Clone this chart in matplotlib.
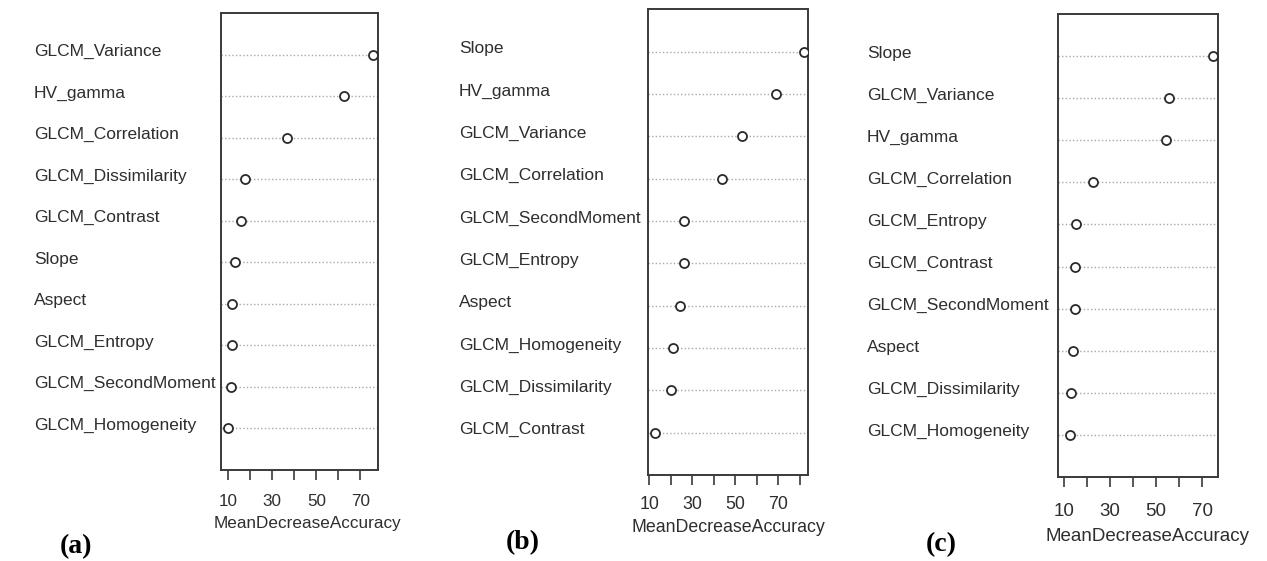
import matplotlib
matplotlib.use("Agg")
import matplotlib.pyplot as plt
from matplotlib import transforms

plt.rcParams["font.family"] = ["Liberation Sans", "DejaVu Sans"]

# variable importance, top row first
names_a = ["GLCM_Variance", "HV_gamma", "GLCM_Correlation", "GLCM_Dissimilarity",
           "GLCM_Contrast", "Slope", "Aspect", "GLCM_Entropy",
           "GLCM_SecondMoment", "GLCM_Homogeneity"]
mda_a = [75.6, 62.5, 36.5, 17.6, 15.5, 13.2, 11.7, 11.7, 11.1, 9.7]

names_b = ["Slope", "HV_gamma", "GLCM_Variance", "GLCM_Correlation",
           "GLCM_SecondMoment", "GLCM_Entropy", "Aspect", "GLCM_Homogeneity",
           "GLCM_Dissimilarity", "GLCM_Contrast"]
mda_b = [82.0, 68.9, 53.0, 43.7, 26.3, 26.3, 24.3, 21.2, 20.2, 12.7]

names_c = ["Slope", "GLCM_Variance", "HV_gamma", "GLCM_Correlation",
           "GLCM_Entropy", "GLCM_Contrast", "GLCM_SecondMoment", "Aspect",
           "GLCM_Dissimilarity", "GLCM_Homogeneity"]
mda_c = [74.7, 55.7, 54.2, 22.7, 15.2, 14.6, 14.6, 13.8, 13.0, 12.6]

panel_tags = ["(a)", "(b)", "(c)"]

# layout: axes rect, xlim, last tick, name x (axes frac), font size,
# tick label pad, xlabel offset (px), tag position
panels = [
    dict(names=names_a, vals=mda_a, rect=[0.1742, 0.1622, 0.1241, 0.8146],
         xlim=(6.5, 78.0), tmax=70, namex=-1.187, fs=12.3, pad=10,
         xlab=(8, -53), tag=(0.0596, 0.0255)),
    dict(names=names_b, vals=mda_b, rect=[0.5112, 0.1533, 0.1268, 0.8301],
         xlim=(9.26, 83.95), tmax=80, namex=-1.175, fs=12.8, pad=8,
         xlab=(0, -53), tag=(0.4128, 0.0321)),
    dict(names=names_c, vals=mda_c, rect=[0.8353, 0.1503, 0.1263, 0.8242],
         xlim=(7.5, 77.1), tmax=70, namex=-1.196, fs=13.5, pad=12,
         xlab=(9, -60), tag=(0.7427, 0.0285)),
]

fig = plt.figure(figsize=(12.67, 5.61), dpi=100)

for p, tag in zip(panels, panel_tags):
    ax = fig.add_axes(p["rect"])
    n = len(p["names"])
    rows = list(range(n, 0, -1))
    for r in rows:
        ax.axhline(r, color="#a8a8a8", lw=1.0, ls=(0, (1, 1.6)), zorder=1)
    ax.plot(p["vals"], rows, "o", ms=6.5, mfc="white", mec="#2a2a2a",
            mew=1.3, ls="none", zorder=3)
    ax.set_xlim(*p["xlim"])
    ax.set_ylim(0, n + 1)
    ax.set_yticks([])
    ax.set_xticks([10, 30, 50, 70])
    ax.set_xticks(list(range(20, p["tmax"] + 1, 20)), minor=True)
    ax.tick_params(axis="x", which="both", length=7, width=1.2,
                   color="#3a3a3a", direction="out")
    ax.tick_params(axis="x", which="major", pad=p["pad"],
                   labelsize=p["fs"], labelcolor="#2e2e2e")
    for s in ax.spines.values():
        s.set_color("#3a3a3a")
        s.set_linewidth(1.4)

    # row names, left aligned like R's dotchart
    trans = transforms.offset_copy(ax.get_yaxis_transform(), fig=fig,
                                   y=3, units="dots")
    for name, r in zip(p["names"], rows):
        ax.text(p["namex"], r, name, transform=trans, ha="left",
                va="center", fontsize=12.5, color="#2e2e2e", clip_on=False)

    ax.annotate("MeanDecreaseAccuracy", xy=(0.5, 0), xycoords="axes fraction",
                xytext=(p["xlab"][0] * 0.72, p["xlab"][1] * 0.72),
                textcoords="offset points", ha="center", va="center",
                fontsize=p["fs"], color="#2e2e2e")

    fig.text(p["tag"][0], p["tag"][1], tag, ha="center", va="center",
             fontsize=20, fontweight="bold", family="Liberation Serif")

fig.savefig("out.png", dpi=100)
